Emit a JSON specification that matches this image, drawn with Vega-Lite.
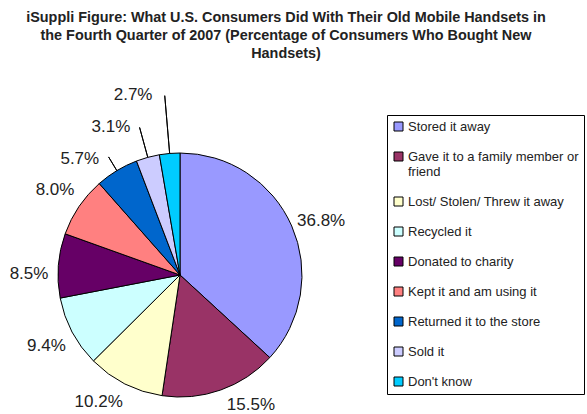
{
  "$schema": "https://vega.github.io/schema/vega-lite/v6.json",
  "width": 360,
  "height": 278,
  "autosize": {"type": "none"},
  "padding": {"left": 0, "top": 136, "right": 227, "bottom": 0},
  "background": "white",
  "title": {
    "text": ["iSuppli Figure: What U.S. Consumers Did With Their Old Mobile Handsets in", "the Fourth Quarter of 2007 (Percentage of Consumers Who Bought New", "Handsets)"],
    "font": "Liberation Sans",
    "fontSize": 14.4,
    "fontWeight": "bold",
    "color": "#222222",
    "frame": "group",
    "anchor": "middle",
    "dx": 106,
    "offset": 25,
    "lineHeight": 18
  },
  "data": {
    "values": [
      {"action": "Stored it away", "pct": 0.368},
      {"action": "Gave it to a family member or friend", "pct": 0.155},
      {"action": "Lost/ Stolen/ Threw it away", "pct": 0.102},
      {"action": "Recycled it", "pct": 0.094},
      {"action": "Donated to charity", "pct": 0.085},
      {"action": "Kept it and am using it", "pct": 0.080},
      {"action": "Returned it to the store", "pct": 0.057},
      {"action": "Sold it", "pct": 0.031},
      {"action": "Don't know", "pct": 0.027}
    ]
  },
  "layer": [
    {
      "mark": {"type": "arc", "outerRadius": 122, "stroke": "black", "strokeWidth": 1},
      "encoding": {
        "theta": {"field": "pct", "type": "quantitative", "stack": true},
        "order": {"field": "pct", "sort": "descending"},
        "color": {
          "field": "action",
          "type": "nominal",
          "sort": null,
          "scale": {
            "domain": ["Stored it away", "Gave it to a family member or friend", "Lost/ Stolen/ Threw it away", "Recycled it", "Donated to charity", "Kept it and am using it", "Returned it to the store", "Sold it", "Don't know"],
            "range": ["#9999FF", "#993366", "#FFFFCC", "#CCFFFF", "#660066", "#FF8080", "#0066CC", "#CCCCFF", "#00CCFF"]
          },
          "legend": {
            "title": null,
            "orient": "none",
            "legendX": 387,
            "legendY": -21,
            "symbolType": "square",
            "symbolSize": 81,
            "symbolStrokeColor": "black",
            "symbolStrokeWidth": 1,
            "symbolOpacity": 1,
            "labelFont": "Liberation Sans",
            "labelFontSize": 13,
            "labelColor": "#222222",
            "labelLimit": 400,
            "labelOffset": 3,
            "labelExpr": "datum.label == 'Gave it to a family member or friend' ? ['Gave it to a family member or', 'friend'] : datum.label",
            "rowPadding": 16,
            "padding": 5,
            "strokeColor": "black",
            "fillColor": "white",
            "cornerRadius": 0
          }
        }
      }
    },
    {
      "transform": [
        {"window": [{"op": "sum", "field": "pct", "as": "cum"}], "sort": [{"field": "pct", "order": "descending"}]},
        {"calculate": "datum.cum - datum.pct / 2", "as": "mid"},
        {"filter": "datum.pct < 0.06"}
      ],
      "mark": {
        "type": "arc",
        "innerRadius": 122,
        "outerRadius": {"expr": "datum.pct < 0.03 ? 180 : datum.pct < 0.04 ? 153 : 138"},
        "fillOpacity": 0,
        "stroke": "black",
        "strokeWidth": 1
      },
      "encoding": {
        "theta": {"field": "mid", "type": "quantitative", "stack": false},
        "theta2": {"field": "mid"}
      }
    },
    {
      "mark": {
        "type": "text",
        "font": "Liberation Sans",
        "fontSize": 17,
        "color": "#222222",
        "radius": {"expr": "datum.pct < 0.03 ? 186 : datum.pct < 0.04 ? 163 : datum.pct < 0.06 ? 153 : datum.pct == 0.155 ? 148 : 151"},
        "thetaOffset": {"expr": "datum.pct == 0.155 ? -0.16 : datum.pct == 0.102 ? 0.1 : datum.pct == 0.368 ? 0.05 : datum.pct == 0.085 ? -0.07 : datum.pct < 0.06 ? -0.17 : 0"}
      },
      "encoding": {
        "theta": {"field": "pct", "type": "quantitative", "stack": true},
        "order": {"field": "pct", "sort": "descending"},
        "text": {"field": "pct", "type": "quantitative", "format": ".1%"}
      }
    }
  ]
}
